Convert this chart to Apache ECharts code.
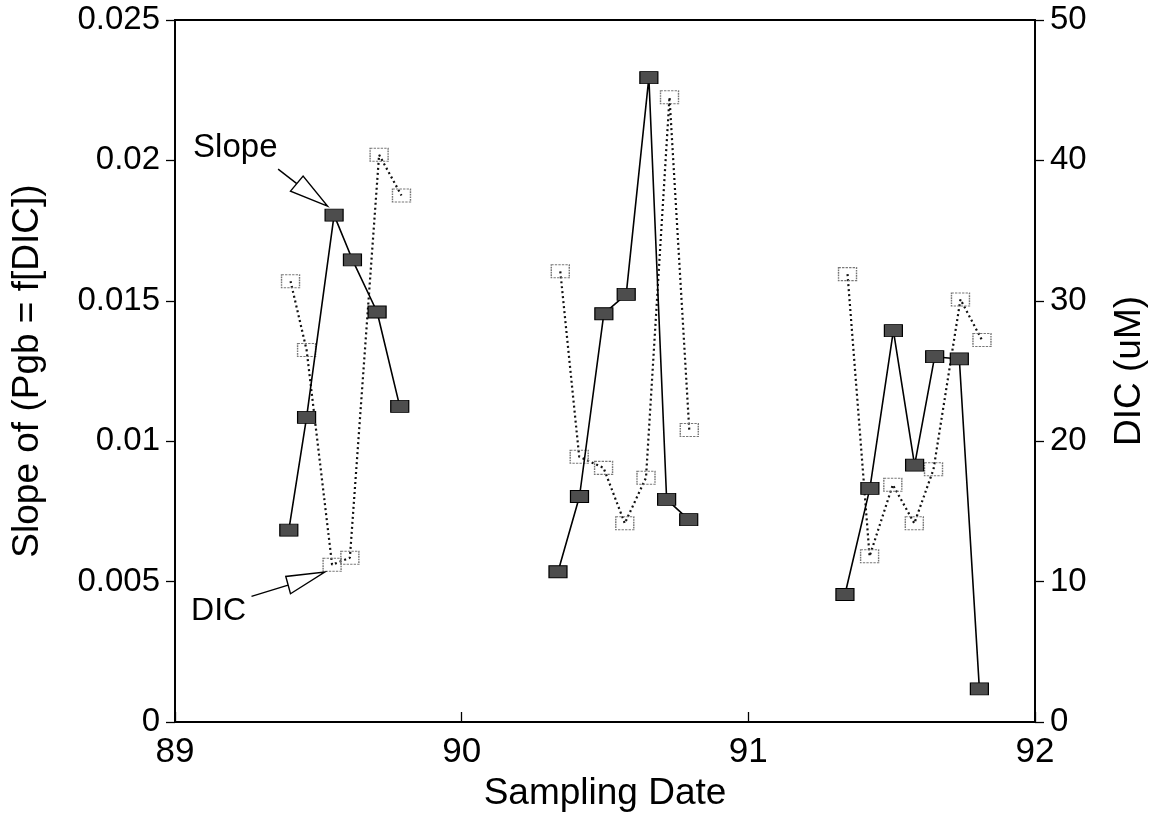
<!DOCTYPE html>
<html><head><meta charset="utf-8">
<script src="https://cdn.jsdelivr.net/npm/echarts@6/dist/echarts.min.js"></script>
<style>html,body{margin:0;padding:0;background:#fff}#c{width:1149px;height:823px}</style>
</head><body><div id="c"></div>
<script>
// ---- Data ----
const slopeDate89 = [89.397, 89.459, 89.555, 89.619, 89.705, 89.784];
const slope89     = [0.00683, 0.01085, 0.01805, 0.01646, 0.0146, 0.01124];
const dicDate89   = [89.403, 89.459, 89.548, 89.61, 89.712, 89.79];
const dic89       = [31.4, 26.5, 11.2, 11.7, 40.4, 37.5];

const slopeDate90 = [90.336, 90.411, 90.496, 90.574, 90.653, 90.715, 90.792];
const slope90     = [0.00535, 0.00803, 0.01454, 0.01523, 0.02295, 0.00793, 0.00721];
const dicDate90   = [90.344, 90.41, 90.495, 90.569, 90.643, 90.725, 90.794];
const dic90       = [32.1, 18.9, 18.1, 14.15, 17.4, 44.5, 20.8];

const slopeDate91 = [91.337, 91.424, 91.506, 91.58, 91.65, 91.736, 91.806];
const slope91     = [0.00454, 0.00832, 0.01394, 0.00915, 0.01301, 0.01293, 0.00118];
const dicDate91   = [91.346, 91.423, 91.504, 91.579, 91.646, 91.74, 91.815];
const dic91       = [31.9, 11.8, 16.9, 14.15, 18.0, 30.1, 27.2];

const xTicks = ['89', '90', '91', '92'];
const leftTicks = ['0', '0.005', '0.01', '0.015', '0.02', '0.025'];
const rightTicks = ['0', '10', '20', '30', '40', '50'];

const xTitle = 'Sampling Date';
const leftTitle = 'Slope of (Pgb = f[DIC])';
const rightTitle = 'DIC (uM)';
const slopeNote = 'Slope';
const dicNote = 'DIC';

// ---- Chart ----
const chart = echarts.init(document.getElementById('c'), null, {renderer: 'canvas'});
const pairs = (xs, ys) => xs.map((x, i) => [x, ys[i]]);
const font = '"Liberation Sans", Arial, Helvetica, sans-serif';

function slopeSeries(xs, ys) {
  return {
    type: 'line', xAxisIndex: 0, yAxisIndex: 0, data: pairs(xs, ys),
    symbol: 'rect', symbolSize: [18, 12], z: 4,
    itemStyle: {color: '#4d4d4d', borderColor: '#000', borderWidth: 1, opacity: 1},
    lineStyle: {color: '#000', width: 1.6},
    emphasis: {disabled: true}, silent: true
  };
}
function dicSeries(xs, ys) {
  return {
    type: 'line', xAxisIndex: 0, yAxisIndex: 1, data: pairs(xs, ys),
    symbol: 'rect', symbolSize: [18, 13], z: 3,
    itemStyle: {color: 'rgba(255,255,255,0)', borderColor: '#777', borderWidth: 1.2, borderType: [2, 1], opacity: 1},
    lineStyle: {color: '#111', width: 2.2, type: [2, 3]},
    emphasis: {disabled: true}, silent: true
  };
}

const axisLine = {show: true, lineStyle: {color: '#000', width: 1.8}};

chart.setOption({
  animation: false,
  backgroundColor: '#fff',
  grid: {left: 175, right: 114, top: 20, bottom: 101, outerBoundsMode: 'none', containLabel: false,
    show: true, borderColor: '#000', borderWidth: 1.8, backgroundColor: 'transparent'},
  xAxis: [{
    type: 'value', min: 89, max: 92, interval: 1,
    axisLine: axisLine, splitLine: {show: false},
    axisTick: {show: true, inside: true, length: 10, lineStyle: {color: '#000', width: 1.3}},
    axisLabel: {fontFamily: font, fontSize: 35, color: '#000', margin: 13,
      formatter: v => xTicks[Math.round(v - 89)]},
    name: xTitle, nameLocation: 'middle', nameGap: 50,
    nameTextStyle: {fontFamily: font, fontSize: 37, color: '#000'}
  }],
  yAxis: [{
    type: 'value', min: 0, max: 0.025, interval: 0.005, position: 'left',
    axisLine: axisLine, splitLine: {show: false},
    axisTick: {show: true, inside: false, length: 9, lineStyle: {color: '#000', width: 1.3}},
    axisLabel: {fontFamily: font, fontSize: 33, color: '#000', margin: 15,
      formatter: v => leftTicks[Math.round(v / 0.005)]},
    name: leftTitle, nameLocation: 'middle', nameGap: 129, nameRotate: 90,
    nameTextStyle: {fontFamily: font, fontSize: 37, color: '#000'}
  }, {
    type: 'value', min: 0, max: 50, interval: 10, position: 'right',
    axisLine: axisLine, splitLine: {show: false},
    axisTick: {show: true, inside: false, length: 9, lineStyle: {color: '#000', width: 1.3}},
    axisLabel: {fontFamily: font, fontSize: 33, color: '#000', margin: 15,
      formatter: v => rightTicks[Math.round(v / 10)]},
    name: rightTitle, nameLocation: 'middle', nameGap: 76, nameRotate: 90,
    nameTextStyle: {fontFamily: font, fontSize: 37, color: '#000'}
  }],
  series: [
    dicSeries(dicDate89, dic89), dicSeries(dicDate90, dic90), dicSeries(dicDate91, dic91),
    slopeSeries(slopeDate89, slope89), slopeSeries(slopeDate90, slope90), slopeSeries(slopeDate91, slope91)
  ]
});

// ---- Annotations anchored on data points ----
const P = chart.convertToPixel({xAxisIndex: 0, yAxisIndex: 0}, [slopeDate89[2], slope89[2]]);
const Q = chart.convertToPixel({xAxisIndex: 0, yAxisIndex: 1}, [dicDate89[2], dic89[2]]);
const off = (b, dx, dy) => [b[0] + dx, b[1] + dy];
const arrowStyle = {stroke: '#000', lineWidth: 1.4, fill: '#fff'};

chart.setOption({
  graphic: [
    {type: 'text', x: P[0] - 141, y: P[1] - 67, style: {text: slopeNote, font: '33px ' + font, fill: '#000', verticalAlign: 'middle'}, z: 10},
    {type: 'polyline', shape: {points: [off(P, -56, -46), off(P, -37.3, -31.5)]}, style: {stroke: '#000', lineWidth: 1.4, fill: null}, z: 10},
    {type: 'polygon', shape: {points: [off(P, -43.6, -24), off(P, -31, -39), off(P, -6.6, -9)]}, style: arrowStyle, z: 10},
    {type: 'text', x: Q[0] - 141, y: Q[1] + 46, style: {text: dicNote, font: '32px ' + font, fill: '#000', verticalAlign: 'middle'}, z: 10},
    {type: 'polyline', shape: {points: [off(Q, -80.6, 31.7), off(Q, -44, 20.3)]}, style: {stroke: '#000', lineWidth: 1.4, fill: null}, z: 10},
    {type: 'polygon', shape: {points: [off(Q, -46.3, 11.7), off(Q, -41.6, 29), off(Q, -7.3, 7.3)]}, style: arrowStyle, z: 10}
  ]
});
</script>
</body></html>
